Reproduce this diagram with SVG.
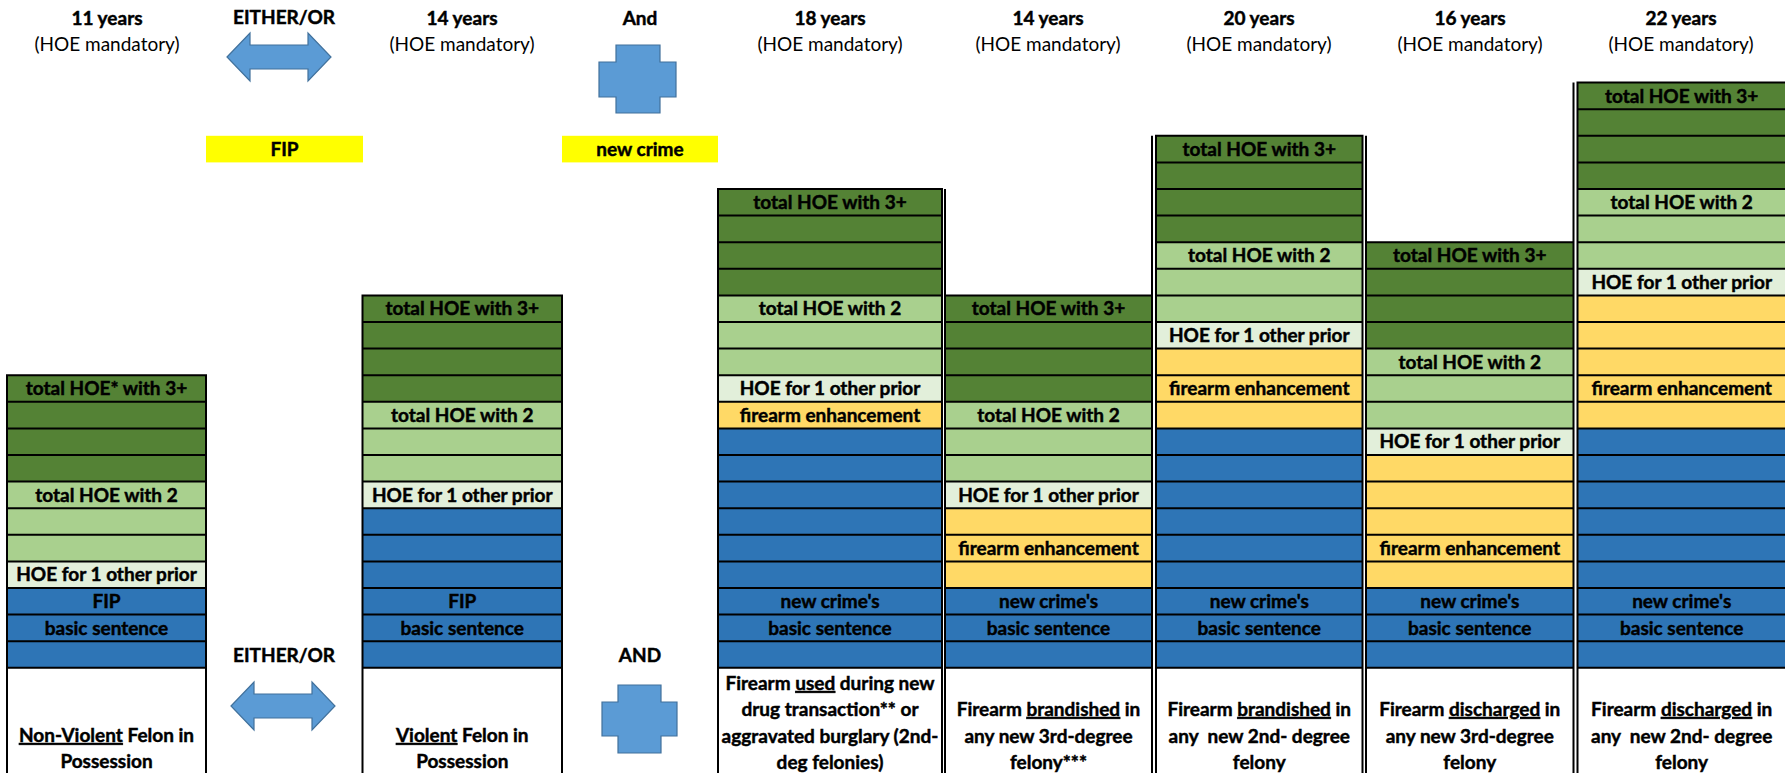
<svg xmlns="http://www.w3.org/2000/svg" width="1785" height="773" viewBox="0 0 1785 773">
<style>
.dg{fill:#548235}.lg{fill:#A9D08E}.pg{fill:#E2EFDA}.yl{fill:#FFD966}.bl{fill:#2E75B6}.yb{fill:#FFFF00}
.ln{stroke:#000;stroke-width:2;fill:none}
.t{font-family:Lato,"Liberation Sans",sans-serif;font-weight:700;font-size:19px;text-anchor:middle;fill:#000;stroke:#000;stroke-width:0.45px}
.r{font-weight:400;stroke:none}
.u{text-decoration:underline}
.op{fill:#5B9BD5;stroke:#41719C;stroke-width:1.2}
</style>
<rect width="1785" height="773" fill="#fff"/>

<g id="headers">
<text class="t" x="107" y="25">11 years</text><text class="t r" x="107" y="51">(HOE mandatory)</text>
<text class="t" x="284" y="24">EITHER/OR</text>
<text class="t" x="462" y="25">14 years</text><text class="t r" x="462" y="51">(HOE mandatory)</text>
<text class="t" x="640" y="25">And</text>
<text class="t" x="830" y="25">18 years</text><text class="t r" x="830" y="51">(HOE mandatory)</text>
<text class="t" x="1048" y="25">14 years</text><text class="t r" x="1048" y="51">(HOE mandatory)</text>
<text class="t" x="1259" y="25">20 years</text><text class="t r" x="1259" y="51">(HOE mandatory)</text>
<text class="t" x="1470" y="25">16 years</text><text class="t r" x="1470" y="51">(HOE mandatory)</text>
<text class="t" x="1681" y="25">22 years</text><text class="t r" x="1681" y="51">(HOE mandatory)</text>
</g>

<g id="fip-box"><rect class="yb" x="206" y="135.8" width="157" height="26.6"/><text class="t" x="284.5" y="156">FIP</text></g>
<g id="newcrime-box"><rect class="yb" x="562" y="135.8" width="156" height="26.6"/><text class="t" x="640" y="156">new crime</text></g>

<g id="connectors">
<path class="op" d="M227,57 L250,33 L250,45 L308,45 L308,33 L331,57 L308,81 L308,69 L250,69 L250,81 Z"/>
<path class="op" d="M616,45 H660 V62 H676 V97 H660 V113 H616 V97 H599 V62 H616 Z"/>
<text class="t" x="284" y="662">EITHER/OR</text>
<path class="op" d="M231,706 L254,682 L254,694 L312,694 L312,682 L335,706 L312,730 L312,718 L254,718 L254,730 Z"/>
<text class="t" x="640" y="662">AND</text>
<path class="op" d="M618,685 H661 V702 H677 V736 H661 V753 H618 V736 H602 V702 H618 Z"/>
</g>

<g id="col1" transform="translate(7,375.2)">
<rect class="dg" width="199" height="106.4"/><rect class="lg" y="106.4" width="199" height="79.8"/><rect class="pg" y="186.2" width="199" height="26.6"/><rect class="bl" y="212.8" width="199" height="79.8"/>
<path class="ln" d="M0,0H199M0,26.6H199M0,53.2H199M0,79.8H199M0,106.4H199M0,133H199M0,159.6H199M0,186.2H199M0,212.8H199M0,239.4H199M0,266H199M0,292.6H199M0,-1V400M199,-1V400"/>
<text class="t" x="99.5" y="20">total HOE* with 3+</text>
<text class="t" x="99.5" y="126.4">total HOE with 2</text>
<text class="t" x="99.5" y="206.2">HOE for 1 other prior</text>
<text class="t" x="99.5" y="232.8">FIP</text>
<text class="t" x="99.5" y="259.4">basic sentence</text>
<text class="t" x="99.5" y="366.8"><tspan class="u">Non-Violent</tspan> Felon in</text>
<text class="t" x="99.5" y="393.3">Possession</text>
</g>

<g id="col2" transform="translate(362.5,295.4)">
<rect class="dg" width="199.5" height="106.4"/><rect class="lg" y="106.4" width="199.5" height="79.8"/><rect class="pg" y="186.2" width="199.5" height="26.6"/><rect class="bl" y="212.8" width="199.5" height="159.6"/>
<path class="ln" d="M0,0H199.5M0,26.6H199.5M0,53.2H199.5M0,79.8H199.5M0,106.4H199.5M0,133H199.5M0,159.6H199.5M0,186.2H199.5M0,212.8H199.5M0,239.4H199.5M0,266H199.5M0,292.6H199.5M0,319.2H199.5M0,345.8H199.5M0,372.4H199.5M0,-1V480M199.5,-1V480"/>
<text class="t" x="99.75" y="20">total HOE with 3+</text>
<text class="t" x="99.75" y="126.4">total HOE with 2</text>
<text class="t" x="99.75" y="206.2">HOE for 1 other prior</text>
<text class="t" x="99.75" y="312.6">FIP</text>
<text class="t" x="99.75" y="339.2">basic sentence</text>
<text class="t" x="99.75" y="446.6"><tspan class="u">Violent</tspan> Felon in</text>
<text class="t" x="99.75" y="473.1">Possession</text>
</g>

<g id="col3" transform="translate(718,189)">
<rect class="dg" width="224" height="106.4"/><rect class="lg" y="106.4" width="224" height="79.8"/><rect class="pg" y="186.2" width="224" height="26.6"/><rect class="yl" y="212.8" width="224" height="26.6"/><rect class="bl" y="239.4" width="224" height="239.4"/>
<path class="ln" d="M0,0H224M0,26.6H224M0,53.2H224M0,79.8H224M0,106.4H224M0,133H224M0,159.6H224M0,186.2H224M0,212.8H224M0,239.4H224M0,266H224M0,292.6H224M0,319.2H224M0,345.8H224M0,372.4H224M0,399H224M0,425.6H224M0,452.2H224M0,478.8H224M0,-1V590M224,-1V590"/>
<text class="t" x="112" y="20">total HOE with 3+</text>
<text class="t" x="112" y="126.4">total HOE with 2</text>
<text class="t" x="112" y="206.2">HOE for 1 other prior</text>
<text class="t" x="112" y="232.8">firearm enhancement</text>
<text class="t" x="112" y="419">new crime's</text>
<text class="t" x="112" y="445.6">basic sentence</text>
<text class="t" x="112" y="501">Firearm <tspan class="u">used</tspan> during new</text>
<text class="t" x="112" y="527">drug transaction** or</text>
<text class="t" x="112" y="554">aggravated burglary (2nd-</text>
<text class="t" x="112" y="580">deg felonies)</text>
</g>

<g id="col4" transform="translate(945,295.4)">
<rect class="dg" width="207" height="106.4"/><rect class="lg" y="106.4" width="207" height="79.8"/><rect class="pg" y="186.2" width="207" height="26.6"/><rect class="yl" y="212.8" width="207" height="79.8"/><rect class="bl" y="292.6" width="207" height="79.8"/>
<path class="ln" d="M0,0H207M0,26.6H207M0,53.2H207M0,79.8H207M0,106.4H207M0,133H207M0,159.6H207M0,186.2H207M0,212.8H207M0,239.4H207M0,266H207M0,292.6H207M0,319.2H207M0,345.8H207M0,372.4H207M0,-106.4V480M207,-159.6V480"/>
<text class="t" x="103.5" y="20">total HOE with 3+</text>
<text class="t" x="103.5" y="126.4">total HOE with 2</text>
<text class="t" x="103.5" y="206.2">HOE for 1 other prior</text>
<text class="t" x="103.5" y="259.4">firearm enhancement</text>
<text class="t" x="103.5" y="312.6">new crime's</text>
<text class="t" x="103.5" y="339.2">basic sentence</text>
<text class="t" x="103.5" y="420.6">Firearm <tspan class="u">brandished</tspan> in</text>
<text class="t" x="103.5" y="447.6">any new 3rd-degree</text>
<text class="t" x="103.5" y="473.6">felony***</text>
</g>

<g id="col5" transform="translate(1156,135.8)">
<rect class="dg" width="206.5" height="106.4"/><rect class="lg" y="106.4" width="206.5" height="79.8"/><rect class="pg" y="186.2" width="206.5" height="26.6"/><rect class="yl" y="212.8" width="206.5" height="79.8"/><rect class="bl" y="292.6" width="206.5" height="239.4"/>
<path class="ln" d="M0,0H206.5M0,26.6H206.5M0,53.2H206.5M0,79.8H206.5M0,106.4H206.5M0,133H206.5M0,159.6H206.5M0,186.2H206.5M0,212.8H206.5M0,239.4H206.5M0,266H206.5M0,292.6H206.5M0,319.2H206.5M0,345.8H206.5M0,372.4H206.5M0,399H206.5M0,425.6H206.5M0,452.2H206.5M0,478.8H206.5M0,505.4H206.5M0,532H206.5M0,-1V640M206.5,-1V640"/>
<text class="t" x="103.25" y="20">total HOE with 3+</text>
<text class="t" x="103.25" y="126.4">total HOE with 2</text>
<text class="t" x="103.25" y="206.2">HOE for 1 other prior</text>
<text class="t" x="103.25" y="259.4">firearm enhancement</text>
<text class="t" x="103.25" y="472.2">new crime's</text>
<text class="t" x="103.25" y="498.8">basic sentence</text>
<text class="t" x="103.25" y="580.2">Firearm <tspan class="u">brandished</tspan> in</text>
<text class="t" x="103.25" y="607.2">any&#160; new 2nd- degree</text>
<text class="t" x="103.25" y="633.2">felony</text>
</g>

<g id="col6" transform="translate(1366,242.2)">
<rect class="dg" width="207.5" height="106.4"/><rect class="lg" y="106.4" width="207.5" height="79.8"/><rect class="pg" y="186.2" width="207.5" height="26.6"/><rect class="yl" y="212.8" width="207.5" height="133"/><rect class="bl" y="345.8" width="207.5" height="79.8"/>
<path class="ln" d="M0,0H207.5M0,26.6H207.5M0,53.2H207.5M0,79.8H207.5M0,106.4H207.5M0,133H207.5M0,159.6H207.5M0,186.2H207.5M0,212.8H207.5M0,239.4H207.5M0,266H207.5M0,292.6H207.5M0,319.2H207.5M0,345.8H207.5M0,372.4H207.5M0,399H207.5M0,425.6H207.5M0,-106.4V535M207.5,-159.6V535"/>
<text class="t" x="103.75" y="20">total HOE with 3+</text>
<text class="t" x="103.75" y="126.4">total HOE with 2</text>
<text class="t" x="103.75" y="206.2">HOE for 1 other prior</text>
<text class="t" x="103.75" y="312.6">firearm enhancement</text>
<text class="t" x="103.75" y="365.8">new crime's</text>
<text class="t" x="103.75" y="392.4">basic sentence</text>
<text class="t" x="103.75" y="473.8">Firearm <tspan class="u">discharged</tspan> in</text>
<text class="t" x="103.75" y="500.8">any new 3rd-degree</text>
<text class="t" x="103.75" y="526.8">felony</text>
</g>

<g id="col7" transform="translate(1577.5,82.6)">
<rect class="dg" width="210" height="106.4"/><rect class="lg" y="106.4" width="210" height="79.8"/><rect class="pg" y="186.2" width="210" height="26.6"/><rect class="yl" y="212.8" width="210" height="133"/><rect class="bl" y="345.8" width="210" height="239.4"/>
<path class="ln" d="M0,0H210M0,26.6H210M0,53.2H210M0,79.8H210M0,106.4H210M0,133H210M0,159.6H210M0,186.2H210M0,212.8H210M0,239.4H210M0,266H210M0,292.6H210M0,319.2H210M0,345.8H210M0,372.4H210M0,399H210M0,425.6H210M0,452.2H210M0,478.8H210M0,505.4H210M0,532H210M0,558.6H210M0,585.2H210M0,-1V695"/>
<text class="t" x="104.2" y="20">total HOE with 3+</text>
<text class="t" x="104.2" y="126.4">total HOE with 2</text>
<text class="t" x="104.2" y="206.2">HOE for 1 other prior</text>
<text class="t" x="104.2" y="312.6">firearm enhancement</text>
<text class="t" x="104.2" y="525.4">new crime's</text>
<text class="t" x="104.2" y="552">basic sentence</text>
<text class="t" x="104.2" y="633.4">Firearm <tspan class="u">discharged</tspan> in</text>
<text class="t" x="104.2" y="660.4">any&#160; new 2nd- degree</text>
<text class="t" x="104.2" y="686.4">felony</text>
</g>
</svg>
